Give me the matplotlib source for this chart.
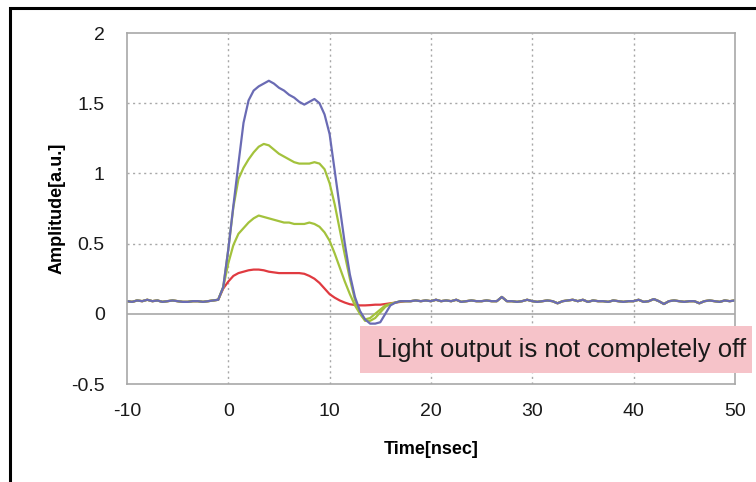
import matplotlib

matplotlib.use("Agg")

import matplotlib.pyplot as plt
import numpy as np
from matplotlib.patches import Rectangle
from matplotlib.ticker import FuncFormatter

plt.rcParams["font.family"] = ["Liberation Sans", "DejaVu Sans"]
plt.rcParams["axes.unicode_minus"] = False

# baseline before the pulse (t = -10 .. -1.5, step 0.5), shared by all traces
base_pre = [0.09, 0.085, 0.095, 0.09, 0.10, 0.09, 0.095, 0.085, 0.09,
            0.095, 0.09, 0.085, 0.085, 0.09, 0.09, 0.085, 0.09, 0.095]

# baseline after the pulse (t = 18 .. 50, step 0.5)
base_post = [0.09, 0.095, 0.09, 0.095, 0.09, 0.10, 0.09, 0.095, 0.09, 0.10,
             0.085, 0.09, 0.095, 0.09, 0.09, 0.095, 0.09, 0.09, 0.12, 0.09,
             0.09, 0.085, 0.09, 0.10, 0.09, 0.085, 0.09, 0.095, 0.09, 0.075,
             0.09, 0.095, 0.10, 0.09, 0.10, 0.085, 0.095, 0.09, 0.09, 0.085,
             0.095, 0.09, 0.085, 0.09, 0.09, 0.10, 0.085, 0.09, 0.105, 0.09,
             0.07, 0.09, 0.095, 0.09, 0.085, 0.09, 0.09, 0.075, 0.09, 0.095,
             0.09, 0.085, 0.095, 0.09, 0.095]

# pulse part (t = -1 .. 17.5, step 0.5)
pulse_blue = [0.10, 0.19, 0.46, 0.77, 1.07, 1.36, 1.52, 1.59, 1.62, 1.64,
              1.66, 1.64, 1.61, 1.59, 1.56, 1.54, 1.51, 1.49, 1.51, 1.53,
              1.50, 1.42, 1.28, 1.02, 0.76, 0.50, 0.28, 0.12, 0.02, -0.04,
              -0.07, -0.07, -0.06, 0.00, 0.06, 0.08, 0.09, 0.09]
pulse_green_hi = [0.10, 0.19, 0.46, 0.76, 0.96, 1.04, 1.10, 1.15, 1.19, 1.21,
                  1.20, 1.17, 1.14, 1.12, 1.10, 1.08, 1.07, 1.07, 1.07, 1.08,
                  1.07, 1.03, 0.93, 0.78, 0.60, 0.42, 0.25, 0.10, 0.00, -0.05,
                  -0.05, -0.03, 0.01, 0.05, 0.07, 0.08, 0.09, 0.09]
pulse_green_lo = [0.10, 0.19, 0.36, 0.49, 0.57, 0.61, 0.65, 0.68, 0.70, 0.69,
                  0.68, 0.67, 0.66, 0.65, 0.65, 0.64, 0.64, 0.64, 0.65, 0.64,
                  0.62, 0.58, 0.52, 0.43, 0.33, 0.23, 0.14, 0.06, 0.00, -0.04,
                  -0.03, 0.00, 0.03, 0.06, 0.07, 0.08, 0.09, 0.09]
pulse_red = [0.10, 0.18, 0.23, 0.27, 0.29, 0.30, 0.31, 0.315, 0.315, 0.31,
             0.30, 0.295, 0.29, 0.29, 0.29, 0.29, 0.29, 0.285, 0.27, 0.25,
             0.22, 0.18, 0.14, 0.115, 0.095, 0.08, 0.068, 0.063, 0.06, 0.06,
             0.062, 0.065, 0.065, 0.07, 0.075, 0.08, 0.085, 0.09]

x_ticks = [-10, 0, 10, 20, 30, 40, 50]
y_ticks = [-0.5, 0, 0.5, 1, 1.5, 2]
note = "Light output is not completely off"

BLUE = "#6a6bb4"
GREEN = "#a3c23c"
RED = "#e03a40"
GRID = "#a8a8a8"


def trace(pulse):
    t_pre = -10 + 0.5 * np.arange(len(base_pre))
    t_pulse = -1 + 0.5 * np.arange(len(pulse))
    t_post = 18 + 0.5 * np.arange(len(base_post))
    t = np.concatenate([t_pre, t_pulse, t_post])
    v = np.concatenate([base_pre, pulse, base_post])
    return t, v


fig = plt.figure(figsize=(7.56, 4.82), dpi=100)
ax = fig.add_axes([0.168, 0.2033, 0.804, 0.7282])

# outer frame of the original slide graphic
fig.patches.append(Rectangle((10 / 756, -0.05), 1.2, 1 - 8 / 482 + 0.05,
                             transform=fig.transFigure, fill=False,
                             edgecolor="black", linewidth=2.2))

for pulse, color in [(pulse_red, RED), (pulse_green_lo, GREEN),
                     (pulse_green_hi, GREEN), (pulse_blue, BLUE)]:
    t, v = trace(pulse)
    ax.plot(t, v, color=color, linewidth=1.6)

ax.set_xlim(-10, 50)
ax.set_ylim(-0.5, 2)
ax.set_xticks(x_ticks)
ax.set_yticks(y_ticks)
ax.xaxis.set_major_formatter(FuncFormatter(lambda v, p: f"{v:g}"))
ax.yaxis.set_major_formatter(FuncFormatter(lambda v, p: f"{v:g}"))
ax.tick_params(length=0, labelsize=14, labelcolor="#1a1a1a")
ax.tick_params(axis="y", pad=16)
ax.tick_params(axis="x", pad=14)

for x in x_ticks[1:-1]:
    ax.axvline(x, color=GRID, linewidth=1, linestyle=(0, (1.5, 2.5)), zorder=0)
for y in [0.5, 1, 1.5]:
    ax.axhline(y, color=GRID, linewidth=1, linestyle=(0, (1.5, 2.5)), zorder=0)
ax.axhline(0, color=GRID, linewidth=1.2, zorder=0.5)

for s in ax.spines.values():
    s.set_color(GRID)
    s.set_linewidth(1.2)

ax.set_xlabel("Time[nsec]", fontsize=13, fontweight="bold", labelpad=15)
ax.set_ylabel("Amplitude[a.u.]", fontsize=13, fontweight="bold", labelpad=4)

fig.patches.append(Rectangle((360 / 756, 1 - 373 / 482), 392 / 756, 47 / 482,
                             transform=fig.transFigure, facecolor="#f6c3c9",
                             edgecolor="none", zorder=5))
fig.text(562 / 756, 1 - 350 / 482, note, fontsize=18.5, ha="center",
         va="center", color="#1a1a1a", zorder=6)

fig.savefig("out.png", dpi=100, facecolor="white")
